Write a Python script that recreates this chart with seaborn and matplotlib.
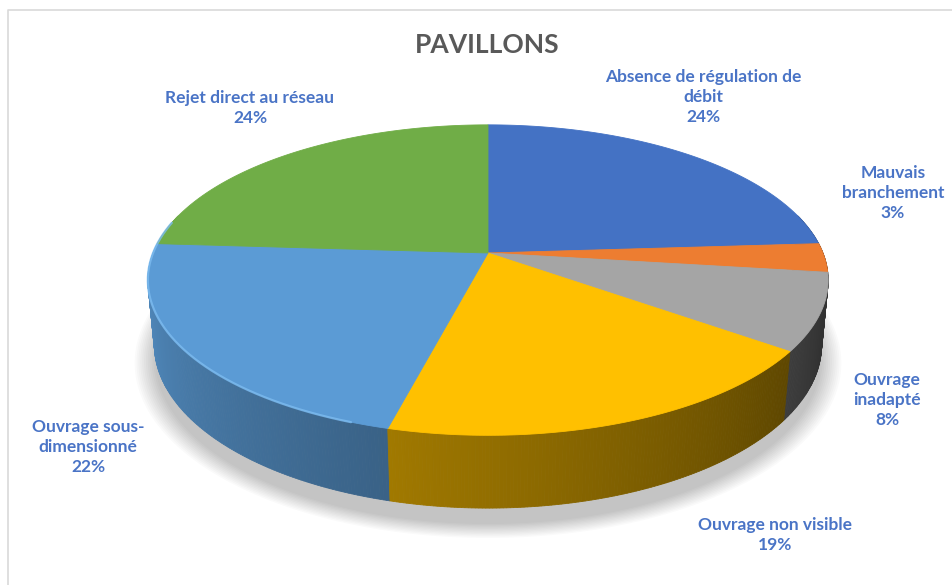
import numpy as np
import matplotlib
matplotlib.use("Agg")
import matplotlib.pyplot as plt
import seaborn as sns
from matplotlib.patches import Polygon
from matplotlib.colors import to_rgb

# ---- data ----
categories = ["Absence de régulation de\ndébit", "Mauvais\nbranchement", "Ouvrage\ninadapté",
              "Ouvrage non visible", "Ouvrage sous-\ndimensionné", "Rejet direct au réseau"]
values = [24, 3, 8, 19, 22, 24]
colors = ["#4472C4", "#ED7D31", "#A5A5A5", "#FFC000", "#5B9BD5", "#70AD47"]
title = "PAVILLONS"

# label anchor positions (pixels)
label_x = [703, 893, 887, 775, 88, 250]
label_y = [97, 193, 400, 535, 447, 108]

sns.set_theme(style="white")
plt.rcParams['font.family'] = ['Lato', 'DejaVu Sans']

W, H = 953, 585
fig = plt.figure(figsize=(W / 100, H / 100), dpi=100)
ax = fig.add_axes([0, 0, 1, 1])
ax.set_xlim(0, W)
ax.set_ylim(H, 0)
ax.axis('off')

# ---- perspective projection of a disc ----
cx, cy = 488, 253
alpha = np.deg2rad(26.7)
sa, ca = np.sin(alpha), np.cos(alpha)
D = 5.12
K = 1715
T = 0.217


def proj(X, Z, Y):
    yc = Y * ca + Z * sa
    zc = D + Z * ca - Y * sa
    return cx + K * X / zc, cy - K * yc / zc


def ang_pts(t0, t1, Y, r=1.0, n=None):
    if n is None:
        n = max(int(abs(t1 - t0) * 2), 4)
    th = np.deg2rad(np.linspace(t0, t1, n))
    return proj(r * np.sin(th), r * np.cos(th), Y)


def bright(theta):
    return float(np.clip(0.37 + (theta - 126) * 0.00382, 0.30, 0.95))


vals = np.array(values, dtype=float)
edges = np.concatenate([[0], np.cumsum(vals) / vals.sum() * 360])

# ---- shadow ----
for i, s in enumerate(np.linspace(1.06, 1.0, 12)):
    xs, ys = ang_pts(0, 360, -T - 0.03, r=s, n=300)
    ax.add_patch(Polygon(np.c_[xs, ys + 6], closed=True, facecolor="black",
                         edgecolor="none", alpha=0.018, zorder=1))

# ---- side walls ----
strips = []
for k in range(len(vals)):
    a0, a1 = edges[k], edges[k + 1]
    lo, hi = max(a0, 75), min(a1, 285)
    if hi <= lo:
        continue
    steps = np.linspace(lo, hi, max(int((hi - lo) * 2), 2) + 1)
    base = np.array(to_rgb(colors[k]))
    for t0, t1 in zip(steps[:-1], steps[1:]):
        xt, yt = ang_pts(t0, t1, 0, n=2)
        xb, yb = ang_pts(t0, t1, -T, n=2)
        poly = np.array([[xt[0], yt[0]], [xt[1], yt[1]], [xb[1], yb[1]], [xb[0], yb[0]]])
        tm = np.deg2rad((t0 + t1) / 2)
        depth = D + np.cos(tm) * ca
        col = np.clip(base * bright((t0 + t1) / 2), 0, 1)
        strips.append((depth, poly, col))

strips.sort(key=lambda s: -s[0])
for depth, poly, col in strips:
    ax.add_patch(Polygon(poly, closed=True, facecolor=col, edgecolor=col,
                         linewidth=0.6, zorder=2))

# ---- top faces ----
for k in range(len(vals)):
    xs, ys = ang_pts(edges[k], edges[k + 1], 0)
    pts = np.vstack([[cx, cy], np.c_[xs, ys]])
    ax.add_patch(Polygon(pts, closed=True, facecolor=colors[k], edgecolor=colors[k],
                         linewidth=0.6, zorder=3))

# rim highlight on the left/front part
xs, ys = ang_pts(200, 282, 0, n=200)
ax.plot(xs, ys, color="#7DBCF0", lw=1.6, alpha=0.8, zorder=4, solid_capstyle="round")

# ---- labels ----
for name, v, lx, ly in zip(categories, values, label_x, label_y):
    ax.text(lx, ly, f"{name}\n{v}%", ha="center", va="center", fontsize=12.5,
            fontweight="bold", color="#4A74C6", linespacing=1.32, zorder=5)

ax.text(487, 45, title, ha="center", va="center", fontsize=19, fontweight="bold",
        color="#595959", zorder=5)

# chart frame
ax.plot([8, 8, W], [H, 10, 10], color="#D9D9D9", lw=1.2, zorder=0)

fig.savefig("out.png", dpi=100)
